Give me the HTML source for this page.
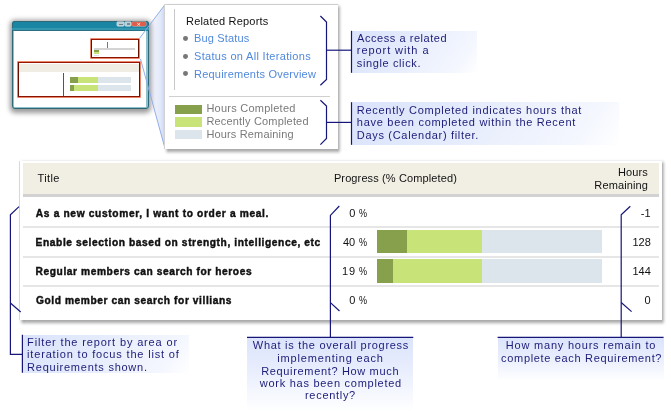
<!DOCTYPE html>
<html><head><meta charset="utf-8">
<style>
html,body{margin:0;padding:0;background:#fff;}
body{width:671px;height:415px;position:relative;overflow:hidden;font-family:"Liberation Sans",sans-serif;}
.a{position:absolute;}
.t{position:absolute;white-space:pre;line-height:14px;font-family:"Liberation Sans",sans-serif;}
</style></head><body>

<!-- callout fill -->
<svg class="a" style="left:0;top:0" width="671" height="415" viewBox="0 0 671 415">
<defs>
<linearGradient id="cg" gradientUnits="userSpaceOnUse" x1="147" x2="165" y1="0" y2="0"><stop offset="0" stop-color="#f4f6fc"/><stop offset="0.45" stop-color="#eef1fb"/><stop offset="0.75" stop-color="#e1e8f9"/><stop offset="1" stop-color="#c9d6f3"/></linearGradient>
</defs>
<polygon points="139.8,38 165,4.5 165,148.5 140.5,59" fill="url(#cg)"/>
</svg>
<!-- mini window -->
<div class="a" style="left:11.5px;top:20.8px;width:137px;height:87.8px;border-radius:3px;background:#8fc0cc;box-shadow:0 1.5px 5px 2px rgba(0,0,0,.4);"></div>
<div class="a" style="left:11.5px;top:20.8px;width:137px;height:10px;border-radius:3px 3px 0 0;background:#1a86a4;"></div>
<div class="a" style="left:11.5px;top:20.8px;width:137px;height:87.8px;border-radius:3px;box-sizing:border-box;border:1px solid #2f6878;"></div>
<div class="a" style="left:13.7px;top:30.5px;width:132.8px;height:76.1px;background:#fff;"></div>
<!-- window buttons -->
<div class="a" style="left:11.5px;top:27.6px;width:137px;height:2.4px;background:#3596b0;"></div>
<div class="a" style="left:13.7px;top:30px;width:132.8px;height:0.7px;background:#2a6f84;"></div>
<div class="a" style="left:117.2px;top:21.7px;width:7px;height:4.7px;background:#bccfd7;border-radius:1px;box-shadow:0 0 0 0.4px #dbe7ec;"></div>
<div class="a" style="left:119.3px;top:24.2px;width:3.6px;height:1.3px;background:#6b7f88;"></div>
<div class="a" style="left:124.9px;top:21.7px;width:6.4px;height:4.7px;background:#bccfd7;border-radius:1px;box-shadow:0 0 0 0.4px #dbe7ec;"></div>
<div class="a" style="left:126.6px;top:22.7px;width:3px;height:2.8px;box-sizing:border-box;border:0.8px solid #788c95;"></div>
<div class="a" style="left:132.4px;top:21.7px;width:13.4px;height:4.7px;background:#dd5f49;border-radius:1px;box-shadow:0 0 0 0.4px #efb0a2;"></div>
<svg class="a" style="left:132.4px;top:21.7px" width="13.4" height="4.7" viewBox="0 0 13.4 4.7"><path d="M5.2,1 L8.2,3.7 M8.2,1 L5.2,3.7" stroke="#f7d9d2" stroke-width="1" fill="none"/></svg>
<!-- small red box -->
<div class="a" style="left:90.8px;top:38.5px;width:48.3px;height:19.8px;box-sizing:border-box;border:1.5px solid #6a0f00;border-top-color:#9a1600;border-bottom-color:#8a1400;background:#fff;box-shadow:0 0 0 0.7px #e2552e;"></div>
<div class="a" style="left:107px;top:41.7px;width:1px;height:7px;background:#777;"></div>
<div class="a" style="left:93.7px;top:48.2px;width:41.3px;height:1.6px;background:#d4d4d4;"></div>
<div class="a" style="left:93.7px;top:50.2px;width:5.3px;height:1.6px;background:#86a04b;"></div>
<div class="a" style="left:93.7px;top:52.4px;width:5.3px;height:1.6px;background:#c8e378;"></div>
<div class="a" style="left:93.7px;top:54.5px;width:5.3px;height:1.5px;background:#dce4ec;"></div>
<!-- big red box -->
<div class="a" style="left:17.7px;top:62px;width:122.6px;height:34.6px;box-sizing:border-box;border:1.5px solid #6a0f00;border-top-color:#9a1600;border-bottom-color:#8a1400;background:#fff;box-shadow:0 0 0 0.7px #e2552e;"></div>
<div class="a" style="left:19.2px;top:63.5px;width:119.6px;height:8.3px;background:#f0eee4;"></div>
<div class="a" style="left:63px;top:73px;width:1px;height:22.5px;background:#555;"></div>
<div class="a" style="left:69.7px;top:77px;width:61.3px;height:5.8px;background:#dce4ec;"></div>
<div class="a" style="left:69.7px;top:77px;width:28.6px;height:5.8px;background:#c8e378;"></div>
<div class="a" style="left:69.7px;top:77px;width:8.1px;height:5.8px;background:#86a04b;"></div>
<div class="a" style="left:69.7px;top:85px;width:61.3px;height:6px;background:#dce4ec;"></div>
<div class="a" style="left:69.7px;top:85px;width:28.6px;height:6px;background:#c8e378;"></div>
<div class="a" style="left:69.7px;top:85px;width:4.3px;height:6px;background:#86a04b;"></div>

<!-- callout + popup -->
<svg class="a" style="left:0;top:0" width="671" height="415" viewBox="0 0 671 415">
<polyline points="139.8,38 165,4.5" fill="none" stroke="#8ea9ea" stroke-width="0.95"/>
<polyline points="140.5,59 165,148.5" fill="none" stroke="#8ea9ea" stroke-width="0.95"/>
</svg>
<div class="a" style="left:164.4px;top:3.8px;width:173.4px;height:144.8px;background:#dadada;"></div>
<div class="a" style="left:165px;top:4.5px;width:172.8px;height:144.1px;background:#fff;box-shadow:1.5px 2px 3px 0.8px rgba(0,0,0,.38);"></div>
<div class="a" style="left:174.2px;top:9.3px;width:1px;height:81px;background:#c8c8c8;"></div>
<div class="a" style="left:169.4px;top:95.6px;width:161px;height:1px;background:#d0d0d0;"></div>
<!-- bullets -->
<div class="a" style="left:183.4px;top:35.9px;width:4.9px;height:4.9px;border-radius:50%;background:#777;"></div>
<div class="a" style="left:183.4px;top:53.7px;width:4.9px;height:4.9px;border-radius:50%;background:#777;"></div>
<div class="a" style="left:183.4px;top:71.1px;width:4.9px;height:4.9px;border-radius:50%;background:#777;"></div>
<!-- legend swatches -->
<div class="a" style="left:174.8px;top:104.9px;width:27.3px;height:8.8px;background:#86a04b;"></div>
<div class="a" style="left:174.8px;top:117.3px;width:27.3px;height:9.3px;background:#c8e378;"></div>
<div class="a" style="left:174.8px;top:130px;width:27.3px;height:9.2px;background:#dce4ec;"></div>

<!-- annotation boxes -->
<div class="a" style="left:351px;top:30.8px;width:126.2px;height:42.1px;background:linear-gradient(125deg,#dae3fb 0%,#e4ebfc 40%,#edf1fd 60%,#f4f7fe 85%,#ffffff 100%);"></div>
<div class="a" style="left:351px;top:102.4px;width:268px;height:42.4px;background:linear-gradient(125deg,#dae3fb 0%,#e4ebfc 40%,#edf1fd 60%,#f4f7fe 85%,#ffffff 100%);"></div>
<div class="a" style="left:22px;top:334.8px;width:167px;height:38px;background:linear-gradient(125deg,#dae3fb 0%,#e4ebfc 40%,#edf1fd 60%,#f4f7fe 85%,#ffffff 100%);"></div>
<div class="a" style="left:247px;top:337.5px;width:166.3px;height:73.5px;background:linear-gradient(180deg,#dbe4fb 0%,#e9eefd 45%,#ffffff 100%);"></div>
<div class="a" style="left:497.6px;top:337.5px;width:166px;height:43.5px;background:linear-gradient(180deg,#dbe4fb 0%,#e9eefd 45%,#ffffff 100%);"></div>

<!-- table panel -->
<div class="a" style="left:19.4px;top:160.5px;width:643px;height:159.4px;background:#e0e0e0;"></div>
<div class="a" style="left:20px;top:161.3px;width:642.3px;height:158.6px;background:#fff;box-shadow:1.5px 2px 3px 0.8px rgba(0,0,0,.38);"></div>
<div class="a" style="left:23px;top:163.3px;width:636px;height:31.1px;background:#f1efe4;"></div>
<div class="a" style="left:23px;top:194.4px;width:636px;height:2.3px;background:#d2d2d2;"></div>
<div class="a" style="left:23px;top:226.0px;width:636px;height:1.7px;background:#e6e6e6;"></div>
<div class="a" style="left:23px;top:255.85px;width:636px;height:1.7px;background:#e6e6e6;"></div>
<div class="a" style="left:23px;top:285.45px;width:636px;height:1.7px;background:#e6e6e6;"></div>
<!-- bars -->
<div class="a" style="left:376.9px;top:230.1px;width:224.8px;height:23.1px;background:#dce4ec;"></div>
<div class="a" style="left:376.9px;top:230.1px;width:104.8px;height:23.1px;background:#c8e378;"></div>
<div class="a" style="left:376.9px;top:230.1px;width:30px;height:23.1px;background:#86a04b;"></div>
<div class="a" style="left:376.9px;top:259.3px;width:224.8px;height:23.4px;background:#dce4ec;"></div>
<div class="a" style="left:376.9px;top:259.3px;width:104.8px;height:23.4px;background:#c8e378;"></div>
<div class="a" style="left:376.9px;top:259.3px;width:16.1px;height:23.4px;background:#86a04b;"></div>

<!-- navy lines -->
<svg class="a" style="left:0;top:0" width="671" height="415" viewBox="0 0 671 415" fill="none" stroke="#16167a" stroke-width="1.2">
<!-- popup brackets -->
<polyline points="320.4,16 326.5,22 326.5,79.5 320.4,85.3"/>
<line x1="326.5" y1="50.2" x2="351" y2="50.2"/>
<polyline points="320.4,100.3 326.5,106 326.5,138.4 320.4,144.6"/>
<line x1="326.5" y1="122.4" x2="351" y2="122.4"/>
<line x1="351.5" y1="30.8" x2="351.5" y2="72.8"/>
<line x1="351.5" y1="102.2" x2="351.5" y2="144.8"/>
<!-- left bracket -->
<polyline points="19,206.6 10.4,214.8 10.4,354.3 22.4,354.3"/>
<line x1="10.4" y1="303" x2="20.7" y2="312"/>
<line x1="22.4" y1="334.8" x2="22.4" y2="372.8"/>
<!-- middle bracket -->
<polyline points="339.3,206 330.4,215.4 330.4,337"/>
<line x1="330.4" y1="302.6" x2="339.5" y2="311"/>
<line x1="247" y1="337.45" x2="413.3" y2="337.45"/>
<!-- right bracket -->
<polyline points="630.3,206.3 621.2,214.8 621.2,337"/>
<line x1="621.2" y1="302.5" x2="631.6" y2="311.6"/>
<line x1="497.6" y1="337.45" x2="663.6" y2="337.45"/>
</svg>

<div class="a" style="left:0;top:0;width:671px;height:415px;will-change:transform;">
<span class="t" style="left:186.00px;top:14px;font-size:11px;font-weight:400;color:#111;letter-spacing:0.200px;">Related Reports</span>
<span class="t" style="left:194.00px;top:31px;font-size:11px;font-weight:400;color:#5089dc;letter-spacing:0.167px;">Bug Status</span>
<span class="t" style="left:194.00px;top:49px;font-size:11px;font-weight:400;color:#5089dc;letter-spacing:0.313px;">Status on All Iterations</span>
<span class="t" style="left:194.00px;top:67px;font-size:11px;font-weight:400;color:#5089dc;letter-spacing:0.225px;">Requirements Overview</span>
<span class="t" style="left:206.40px;top:101px;font-size:11px;font-weight:400;color:#7a7a7a;letter-spacing:0.243px;">Hours Completed</span>
<span class="t" style="left:206.40px;top:114px;font-size:11px;font-weight:400;color:#7a7a7a;letter-spacing:0.182px;">Recently Completed</span>
<span class="t" style="left:206.40px;top:127px;font-size:11px;font-weight:400;color:#7a7a7a;letter-spacing:0.157px;">Hours Remaining</span>
<span class="t" style="left:357.00px;top:31px;font-size:11px;font-weight:400;color:#1c1c78;letter-spacing:0.553px;">Access a related</span>
<span class="t" style="left:356.80px;top:43px;font-size:11px;font-weight:400;color:#1c1c78;letter-spacing:0.933px;">report with a</span>
<span class="t" style="left:356.80px;top:56px;font-size:11px;font-weight:400;color:#1c1c78;letter-spacing:0.617px;">single click.</span>
<span class="t" style="left:356.80px;top:103px;font-size:11px;font-weight:400;color:#1c1c78;letter-spacing:0.713px;">Recently Completed indicates hours that</span>
<span class="t" style="left:356.80px;top:115px;font-size:11px;font-weight:400;color:#1c1c78;letter-spacing:0.719px;">have been completed within the Recent</span>
<span class="t" style="left:356.80px;top:128px;font-size:11px;font-weight:400;color:#1c1c78;letter-spacing:0.691px;">Days (Calendar) filter.</span>
<span class="t" style="left:27.10px;top:335px;font-size:11px;font-weight:400;color:#1c1c78;letter-spacing:0.844px;">Filter the report by area or</span>
<span class="t" style="left:27.10px;top:347px;font-size:11px;font-weight:400;color:#1c1c78;letter-spacing:0.824px;">iteration to focus the list of</span>
<span class="t" style="left:27.10px;top:360px;font-size:11px;font-weight:400;color:#1c1c78;letter-spacing:0.750px;">Requirements shown.</span>
<span class="t" style="left:252.80px;top:338px;font-size:11px;font-weight:400;color:#1c1c78;letter-spacing:0.711px;">What is the overall progress</span>
<span class="t" style="left:277.30px;top:351px;font-size:11px;font-weight:400;color:#1c1c78;letter-spacing:0.831px;">implementing each</span>
<span class="t" style="left:261.20px;top:364px;font-size:11px;font-weight:400;color:#1c1c78;letter-spacing:0.660px;">Requirement? How much</span>
<span class="t" style="left:259.80px;top:376px;font-size:11px;font-weight:400;color:#1c1c78;letter-spacing:0.727px;">work has been completed</span>
<span class="t" style="left:305.00px;top:388px;font-size:11px;font-weight:400;color:#1c1c78;letter-spacing:0.700px;">recently?</span>
<span class="t" style="left:505.80px;top:338px;font-size:11px;font-weight:400;color:#1c1c78;letter-spacing:0.791px;">How many hours remain to</span>
<span class="t" style="left:501.10px;top:351px;font-size:11px;font-weight:400;color:#1c1c78;letter-spacing:0.668px;">complete each Requirement?</span>
<span class="t" style="left:37.60px;top:171px;font-size:11px;font-weight:400;color:#111;letter-spacing:0.350px;">Title</span>
<span class="t" style="left:333.90px;top:171px;font-size:11px;font-weight:400;color:#111;letter-spacing:0.119px;">Progress (% Completed)</span>
<span class="t" style="left:617.90px;top:165px;font-size:11px;font-weight:400;color:#111;letter-spacing:0.125px;">Hours</span>
<span class="t" style="left:594.30px;top:178px;font-size:11px;font-weight:400;color:#111;letter-spacing:0.138px;">Remaining</span>
<span class="t" style="left:35.80px;top:207px;font-size:10.2px;font-weight:700;color:#111;-webkit-text-stroke:0.42px #111;letter-spacing:0.661px;">As a new customer, I want to order a meal.</span>
<span class="t" style="left:35.60px;top:236px;font-size:10.2px;font-weight:700;color:#111;-webkit-text-stroke:0.42px #111;letter-spacing:0.596px;">Enable selection based on strength, intelligence, etc</span>
<span class="t" style="left:35.60px;top:265px;font-size:10.2px;font-weight:700;color:#111;-webkit-text-stroke:0.42px #111;letter-spacing:0.589px;">Regular members can search for heroes</span>
<span class="t" style="left:36.00px;top:294px;font-size:10.2px;font-weight:700;color:#111;-webkit-text-stroke:0.42px #111;letter-spacing:0.588px;">Gold member can search for villians</span>
<span class="t" style="left:349.30px;top:206px;font-size:11px;font-weight:400;color:#111;">0</span>
<span class="t" style="left:349.30px;top:293px;font-size:11px;font-weight:400;color:#111;">0</span>
<span class="t" style="left:342.90px;top:235px;font-size:11px;font-weight:400;color:#111;letter-spacing:0.100px;">40</span>
<span class="t" style="left:341.90px;top:264px;font-size:11px;font-weight:400;color:#111;letter-spacing:1.100px;">19</span>
<span class="t" style="left:358.80px;top:206px;font-size:11px;font-weight:400;color:#111;transform:scaleX(0.822);transform-origin:0 0;">%</span>
<span class="t" style="left:358.80px;top:235px;font-size:11px;font-weight:400;color:#111;transform:scaleX(0.822);transform-origin:0 0;">%</span>
<span class="t" style="left:358.80px;top:264px;font-size:11px;font-weight:400;color:#111;transform:scaleX(0.822);transform-origin:0 0;">%</span>
<span class="t" style="left:358.80px;top:293px;font-size:11px;font-weight:400;color:#111;transform:scaleX(0.822);transform-origin:0 0;">%</span>
<span class="t" style="left:640.80px;top:206px;font-size:11px;font-weight:400;color:#111;">-1</span>
<span class="t" style="left:632.40px;top:235px;font-size:11px;font-weight:400;color:#111;">128</span>
<span class="t" style="left:632.40px;top:264px;font-size:11px;font-weight:400;color:#111;">144</span>
<span class="t" style="left:644.40px;top:293px;font-size:11px;font-weight:400;color:#111;">0</span>
</div>
</body></html>
